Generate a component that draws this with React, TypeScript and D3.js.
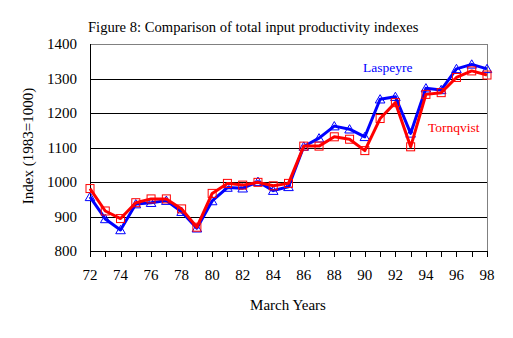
import React from "react";
import * as d3 from "d3";

const years = d3.range(72, 99);
const laspeyre = [957, 893, 861, 936, 940, 946, 914, 866, 945, 984, 982, 1001, 975, 986, 1103, 1127, 1162, 1153, 1131, 1240, 1247, 1141, 1272, 1267, 1328, 1341, 1328];
const tornqvist = [981, 916, 894, 940, 951, 951, 922, 869, 967, 996, 991, 999, 989, 996, 1104, 1104, 1131, 1124, 1091, 1184, 1230, 1102, 1254, 1259, 1303, 1322, 1310];
const yTicks = [800, 900, 1000, 1100, 1200, 1300, 1400];
const xLabelYears = d3.range(72, 99, 2);
const title = "Figure 8: Comparison of total input productivity indexes";

const W = 513, H = 338;
const L = 90, R = 487, T = 44, B = 251;
const FONT = "Liberation Serif, Times New Roman, serif";

export default function App() {
  const x = d3.scaleLinear().domain([72, 98]).range([L, R]);
  const y = d3.scaleLinear().domain([800, 1400]).range([B, T]);
  const line = d3.line<number>().x((_, i) => x(years[i])).y((d) => y(d));
  const tri = d3.symbol(d3.symbolTriangle, 40)();
  return (
    <div style={{ position: "fixed", left: 0, top: 0 }}>
      <svg width={W} height={H} style={{ display: "block", background: "#fff", fontFamily: FONT }}>
        <rect x={0} y={0} width={W} height={H} fill="#fff" />
        <text x={L - 2} y={32} fontSize={14.6} fill="#000">{title}</text>
        {yTicks.slice(1, -1).map((t) => (
          <line key={t} x1={L} x2={R} y1={Math.round(y(t)) + 0.5} y2={Math.round(y(t)) + 0.5} stroke="#000" strokeWidth={1} />
        ))}
        <line x1={L} x2={R} y1={T + 0.5} y2={T + 0.5} stroke="#808080" />
        <line x1={R + 0.5} x2={R + 0.5} y1={T} y2={B} stroke="#808080" />
        <line x1={L + 0.5} x2={L + 0.5} y1={T} y2={B} stroke="#000" />
        <line x1={L} x2={R + 1} y1={B + 0.5} y2={B + 0.5} stroke="#000" />
        {years.map((yr) => (
          <line key={yr} x1={Math.round(x(yr)) + 0.5} x2={Math.round(x(yr)) + 0.5} y1={B} y2={B + 6} stroke="#000" />
        ))}
        {yTicks.map((t) => (
          <text key={t} x={L - 13} y={y(t) + 5} fontSize={15} textAnchor="end" fill="#000">{t}</text>
        ))}
        {xLabelYears.map((yr) => (
          <text key={yr} x={x(yr)} y={280} fontSize={15} textAnchor="middle" fill="#000">{yr}</text>
        ))}
        <text x={288} y={310} fontSize={15} textAnchor="middle" fill="#000">March Years</text>
        <text transform={`translate(33,${146}) rotate(-90)`} fontSize={15} textAnchor="middle" fill="#000">Index (1983=1000)</text>
        <path d={line(laspeyre) || ""} fill="none" stroke="#0000ff" strokeWidth={3} strokeLinejoin="round" />
        {laspeyre.map((v, i) => (
          <path key={i} d={tri} transform={`translate(${x(years[i])},${y(v) + 1})`} fill="none" stroke="#0000ff" strokeWidth={1} />
        ))}
        <path d={line(tornqvist) || ""} fill="none" stroke="#ff0000" strokeWidth={3} strokeLinejoin="round" />
        {tornqvist.map((v, i) => (
          <rect key={i} x={x(years[i]) - 4} y={y(v) - 4} width={8} height={8} fill="none" stroke="#ff0000" strokeWidth={1} />
        ))}
        <text x={363} y={72} fontSize={13.5} fill="#0000ff">Laspeyre</text>
        <text x={428} y={132} fontSize={13.5} fill="#ff0000">Tornqvist</text>
      </svg>
    </div>
  );
}
